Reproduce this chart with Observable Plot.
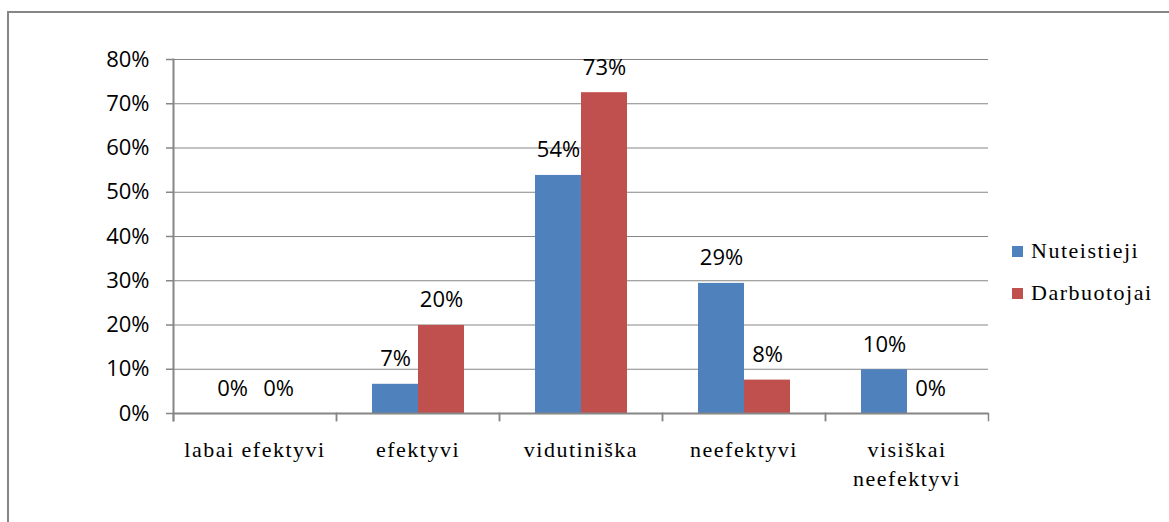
<!DOCTYPE html>
<html>
<head>
<meta charset="utf-8">
<script src="https://cdn.jsdelivr.net/npm/d3@7"></script>
<script src="https://cdn.jsdelivr.net/npm/@observablehq/plot@0.6"></script>
<style>
  body { margin: 0; background: #fff; }
  #wrap { position: relative; width: 1169px; height: 522px; overflow: hidden; background: #fff; }
  #border { position: absolute; left: 7px; top: 11px; width: 2000px; height: 2000px;
            border-top: 2px solid #868686; border-left: 2px solid #868686; }
  #chart { position: absolute; left: 0; top: 0; }
  [aria-label="fx-axis tick label"] text { letter-spacing: 1.5px; }
  #legend { position: absolute; left: 1012px; top: 230px; font-family: "Liberation Serif"; font-size: 22px;
            letter-spacing: 1.5px; color: #000; }
  .item { display: flex; align-items: center; height: 42px; }
  .sw { width: 11px; height: 11px; margin-right: 8px; }
</style>
</head>
<body>
<div id="wrap">
  <div id="border"></div>
  <div id="chart"></div>
  <div id="legend"></div>
</div>
<script>
const categories = ["labai efektyvi", "efektyvi", "vidutiniška", "neefektyvi", "visiškai neefektyvi"];
const series = ["Nuteistieji", "Darbuotojai"];
const nuteistieji = [0, 0.066, 0.538, 0.294, 0.099];
const darbuotojai = [0, 0.199, 0.725, 0.0755, 0];
const yTicks = [0, 0.1, 0.2, 0.3, 0.4, 0.5, 0.6, 0.7, 0.8];
const colors = ["#4F81BD", "#C0504D"];

const data = categories.flatMap((c, i) => [
  {cat: c, series: series[0], value: nuteistieji[i]},
  {cat: c, series: series[1], value: darbuotojai[i]}
]);
const pct = d3.format(".0%");
const gray = "#868686";

const plot = Plot.plot({
  width: 1169, height: 522,
  marginLeft: 171, marginRight: 180, marginTop: 59, marginBottom: 109,
  fx: {domain: categories, padding: 0, label: null},
  x: {domain: series, paddingInner: 0, paddingOuter: 0.74, axis: null},
  y: {domain: [0, 0.8], label: null},
  color: {domain: series, range: colors},
  marks: [
    Plot.gridY(yTicks, {stroke: gray, strokeOpacity: 1, strokeWidth: 1}),
    Plot.barY(data, {fx: "cat", x: "series", y: "value", fill: "series"}),
    Plot.ruleY([0], {stroke: gray, strokeWidth: 2}),
    Plot.frame({anchor: "left", fx: [categories[0]], stroke: gray, strokeWidth: 2, insetBottom: -7}),
    Plot.frame({anchor: "left", stroke: gray, strokeWidth: 1.5, insetTop: 354, insetBottom: -7}),
    Plot.frame({anchor: "right", stroke: gray, strokeWidth: 1.5, insetTop: 354, insetBottom: -7}),
    Plot.axisY(yTicks, {tickSize: 7, text: null, label: null, stroke: gray, strokeWidth: 1.5}),
    Plot.axisY(yTicks, {tickSize: 0, tickPadding: 24, label: null, tickFormat: pct, fontFamily: "Open Sans", fontSize: 22, fill: "#000"}),
    Plot.axisFx({anchor: "bottom", tickSize: 0, tickPadding: 23, fontFamily: "Liberation Serif", fontSize: 22,
      lineHeight: 1.32, fill: "#000", label: null,
      tickFormat: d => d === "visiškai neefektyvi" ? "visiškai\nneefektyvi" : d}),
    Plot.text(data, {fx: "cat", x: "series", y: "value", text: d => pct(d.value), dy: -25,
      fontFamily: "Open Sans", fontSize: 22, fill: "#000"})
  ]
});
document.getElementById("chart").appendChild(plot);

const legend = document.getElementById("legend");
series.forEach((s, i) => {
  const item = document.createElement("div");
  item.className = "item";
  const sw = document.createElement("div");
  sw.className = "sw";
  sw.style.background = colors[i];
  const t = document.createElement("span");
  t.textContent = s;
  item.appendChild(sw);
  item.appendChild(t);
  legend.appendChild(item);
});
</script>
</body>
</html>
